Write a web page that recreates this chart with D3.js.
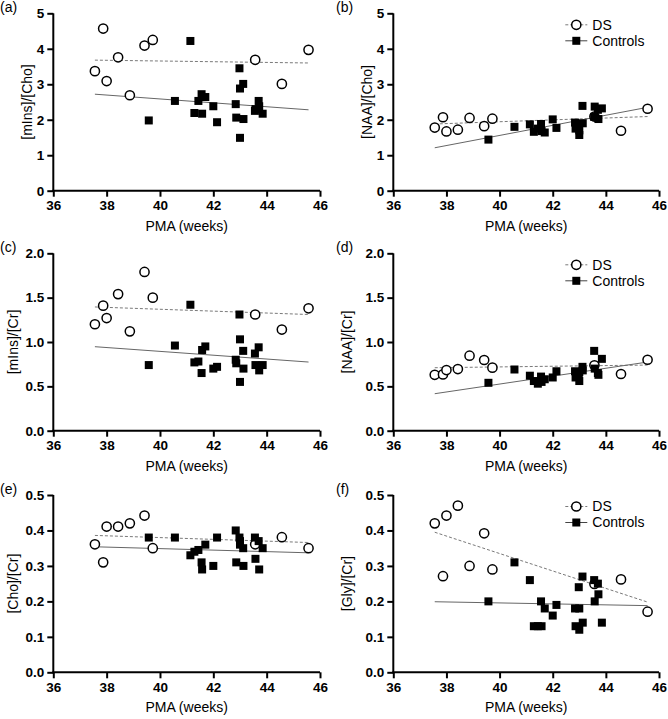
<!DOCTYPE html>
<html>
<head>
<meta charset="utf-8">
<script src="https://cdn.jsdelivr.net/npm/d3@7"></script>
<style>
  body { margin: 0; background: #fff; }
  svg { display: block; font-family: "Liberation Sans", Arial, sans-serif; }
</style>
</head>
<body>
<svg id="chart" width="668" height="719"></svg>
<script>
// ---------------- DATA ----------------
const xTicks = [36, 38, 40, 42, 44, 46];
const panelLabels = ["(a)", "(b)", "(c)", "(d)", "(e)", "(f)"];
const yTitles = ["[mIns]/[Cho]", "[NAA]/[Cho]", "[mIns]/[Cr]", "[NAA]/[Cr]", "[Cho]/[Cr]", "[Gly]/[Cr]"];
const yMaxes = [5, 5, 2.0, 2.0, 0.5, 0.5];
const yTickSteps = [1, 1, 0.5, 0.5, 0.1, 0.1];
const seriesNames = ["DS", "Controls"];

// PMA (weeks)
const pmaDS = [37.56, 37.87, 38.0, 38.43, 38.87, 39.42, 39.73, 43.57, 44.57, 45.57];
const pmaControls = [39.58, 40.56, 41.14, 41.29, 41.44, 41.56, 41.58, 41.70, 42.0, 42.14, 42.84,
                     42.86, 42.98, 43.0, 43.0, 43.12, 43.13, 43.56, 43.58, 43.70, 43.72, 43.85];

// (a) [mIns]/[Cho]
const dsMInsCho = [3.37, 4.57, 3.09, 3.76, 2.69, 4.09, 4.25, 3.69, 3.01, 3.97];
const ctrlMInsCho = [1.98, 2.53, 4.22, 2.19, 2.53, 2.72, 2.17, 2.64, 2.38, 1.93, 2.44,
                     2.06, 3.45, 2.88, 1.49, 3.01, 2.02, 2.25, 2.30, 2.53, 2.38, 2.17];
// (b) [NAA]/[Cho]
const dsNAACho = [1.78, 2.07, 1.67, 1.72, 2.05, 1.82, 2.03, 2.09, 1.69, 2.31];
const ctrlNAACho = [1.44, 1.80, 1.87, 1.66, 1.75, 1.88, 1.68, 1.64, 2.01, 1.77, 1.92,
                    1.75, 1.85, 1.57, 1.70, 2.39, 1.90, 2.08, 2.37, 2.28, 2.02, 2.32];
// (c) [mIns]/[Cr]
const dsMInsCr = [1.20, 1.41, 1.27, 1.54, 1.12, 1.79, 1.50, 1.31, 1.14, 1.38];
const ctrlMInsCr = [0.74, 0.96, 1.42, 0.77, 0.78, 0.65, 0.91, 0.95, 0.70, 0.72, 0.80,
                    0.76, 1.31, 1.03, 0.55, 0.90, 0.70, 0.87, 0.74, 0.94, 0.68, 0.74];
// (d) [NAA]/[Cr]
const dsNAACr = [0.63, 0.635, 0.684, 0.695, 0.846, 0.797, 0.711, 0.737, 0.639, 0.80];
const ctrlNAACr = [0.54, 0.69, 0.62, 0.56, 0.53, 0.61, 0.55, 0.58, 0.60, 0.67, 0.67,
                   0.60, 0.63, 0.56, 0.66, 0.72, 0.68, 0.90, 0.70, 0.65, 0.63, 0.81];
// (e) [Cho]/[Cr]
const dsChoCr = [0.361, 0.310, 0.411, 0.411, 0.42, 0.442, 0.350, 0.361, 0.381, 0.350];
const ctrlChoCr = [0.38, 0.38, 0.33, 0.34, 0.345, 0.31, 0.29, 0.36, 0.30, 0.38, 0.40,
                   0.31, 0.38, 0.36, 0.37, 0.35, 0.30, 0.38, 0.32, 0.37, 0.29, 0.35];
// (f) [Gly]/[Cr]
const dsGlyCr = [0.42, 0.271, 0.442, 0.47, 0.30, 0.392, 0.29, 0.249, 0.262, 0.171];
const ctrlGlyCr = [0.20, 0.31, 0.26, 0.13, 0.13, 0.20, 0.13, 0.18, 0.16, 0.19, 0.18,
                   0.13, 0.24, 0.12, 0.18, 0.27, 0.14, 0.26, 0.20, 0.25, 0.22, 0.14];

// Regression lines: values at the start and end of the PMA range
const fitRange = [37.56, 45.57];
const fitDS = [[3.68, 3.60], [1.88, 2.09], [1.395, 1.31], [0.71, 0.74], [0.386, 0.366], [0.395, 0.198]];
const fitControls = [[2.72, 2.28], [1.21, 2.35], [0.947, 0.774], [0.417, 0.774], [0.354, 0.337], [0.199, 0.188]];

const dsSeries = [dsMInsCho, dsNAACho, dsMInsCr, dsNAACr, dsChoCr, dsGlyCr];
const ctrlSeries = [ctrlMInsCho, ctrlNAACho, ctrlMInsCr, ctrlNAACr, ctrlChoCr, ctrlGlyCr];
const legendPanels = [1, 3, 5];

// ---------------- LAYOUT ----------------
const colX = [[53.3, 320], [393.3, 659]];
const rowY = [[190.7, 13.3], [430.7, 253.3], [672.3, 495]];
const yTitleOffset = [26, 26, 40, 46, 40, 46];

const svg = d3.select("#chart");

panelLabels.forEach((lab, i) => {
  const col = i % 2, row = Math.floor(i / 2);
  const x = d3.scaleLinear().domain([36, 46]).range(colX[col]);
  const y = d3.scaleLinear().domain([0, yMaxes[i]]).range(rowY[row]);
  const g = svg.append("g");

  const step = yTickSteps[i];
  const yTickVals = d3.range(0, yMaxes[i] + step / 2, step);
  const fmt = step >= 1 ? d3.format("d") : d3.format(".1f");

  // axes
  const xAxis = g.append("g")
    .attr("transform", `translate(0,${rowY[row][0]})`)
    .call(d3.axisBottom(x).tickValues(xTicks).tickSizeOuter(0).tickSize(6).tickPadding(4));
  const yAxis = g.append("g")
    .attr("transform", `translate(${colX[col][0]},0)`)
    .call(d3.axisLeft(y).tickValues(yTickVals).tickFormat(fmt).tickSizeOuter(0).tickSize(6).tickPadding(3));
  [xAxis, yAxis].forEach(ax => {
    ax.select(".domain").attr("stroke", "#000").attr("stroke-width", 2);
    ax.selectAll(".tick line").attr("stroke", "#000").attr("stroke-width", 2);
    ax.selectAll(".tick text").attr("fill", "#000").attr("font-size", 13.5).attr("font-weight", "bold")
      .attr("font-family", "'Liberation Sans', Arial, sans-serif");
  });
  xAxis.select(".domain").attr("d", `M${colX[col][0] - 1},0H${colX[col][1]}`);
  yAxis.select(".domain").attr("d", `M0,${rowY[row][1]}V${rowY[row][0] + 1}`);

  // titles
  g.append("text")
    .attr("x", (colX[col][0] + colX[col][1]) / 2)
    .attr("y", rowY[row][0] + 40)
    .attr("text-anchor", "middle")
    .attr("font-size", 14)
    .text("PMA (weeks)");
  g.append("text")
    .attr("transform", `translate(${colX[col][0] - yTitleOffset[i]},${(rowY[row][0] + rowY[row][1]) / 2}) rotate(-90)`)
    .attr("text-anchor", "middle")
    .attr("dy", "0.35em")
    .attr("font-size", 14)
    .text(yTitles[i]);
  g.append("text")
    .attr("x", col === 0 ? 0 : 336)
    .attr("y", rowY[row][1] - 1)
    .attr("font-size", 14)
    .text(lab);

  // regression lines
  const line = d3.line().x(d => x(d[0])).y(d => y(d[1]));
  g.append("path")
    .attr("d", line(fitRange.map((v, k) => [v, fitDS[i][k]])))
    .attr("fill", "none").attr("stroke", "#7a7a7a").attr("stroke-width", 1)
    .attr("stroke-dasharray", "3,2");
  g.append("path")
    .attr("d", line(fitRange.map((v, k) => [v, fitControls[i][k]])))
    .attr("fill", "none").attr("stroke", "#666").attr("stroke-width", 1);

  // DS: open circles
  const r = 4.6;
  g.selectAll(".ds").data(pmaDS.map((p, k) => [p, dsSeries[i][k]])).enter()
    .append("circle")
    .attr("cx", d => x(d[0])).attr("cy", d => y(d[1])).attr("r", r)
    .attr("fill", "#fff").attr("stroke", "#000").attr("stroke-width", 1.5);

  // Controls: filled squares
  const s = 8;
  g.selectAll(".ctrl").data(pmaControls.map((p, k) => [p, ctrlSeries[i][k]])).enter()
    .append("rect")
    .attr("x", d => x(d[0]) - s / 2).attr("y", d => y(d[1]) - s / 2)
    .attr("width", s).attr("height", s).attr("fill", "#000");

  // legend
  if (legendPanels.includes(i)) {
    const lx = colX[col][0] + 183, ly = rowY[row][1] + 11.5;
    seriesNames.forEach((name, k) => {
      const yy = ly + k * 16;
      const lg = g.append("g");
      lg.append("line").attr("x1", lx - 11).attr("x2", lx + 11).attr("y1", yy).attr("y2", yy)
        .attr("stroke", k === 0 ? "#7a7a7a" : "#444").attr("stroke-width", 1)
        .attr("stroke-dasharray", k === 0 ? "3,2" : null);
      if (k === 0) {
        lg.append("circle").attr("cx", lx).attr("cy", yy).attr("r", r)
          .attr("fill", "#fff").attr("stroke", "#000").attr("stroke-width", 1.5);
      } else {
        lg.append("rect").attr("x", lx - s / 2).attr("y", yy - s / 2).attr("width", s).attr("height", s)
          .attr("fill", "#000");
      }
      lg.append("text").attr("x", lx + 16).attr("y", yy).attr("dy", "0.35em")
        .attr("font-size", 14).text(name);
    });
  }
});
</script>
</body>
</html>
